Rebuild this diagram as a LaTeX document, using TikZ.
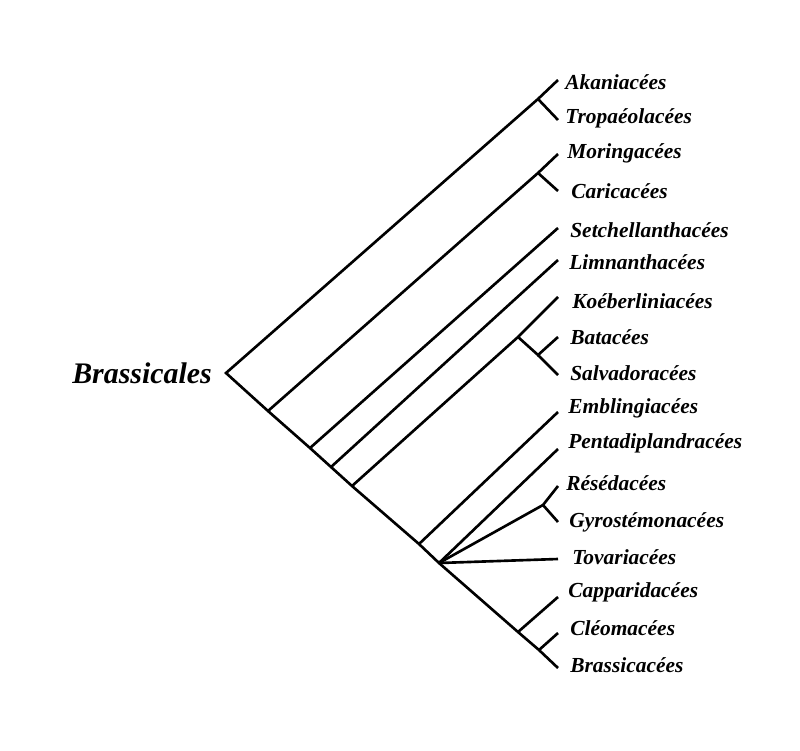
\documentclass[tikz,border=0pt]{standalone}
\usepackage{fontspec}
\setmainfont{Liberation Serif}
\usetikzlibrary{positioning}
\begin{document}
\begin{tikzpicture}[x=0.02cm, y=-0.02cm, line width=1.5pt,
		taxon/.style={inner sep=0pt, font=\fontsize{12.2}{14}\selectfont\bfseries\itshape},
		order/.style={inner sep=0pt, font=\fontsize{17}{20}\selectfont\bfseries\itshape}]
		\useasboundingbox (0,0) rectangle (800,750);

		% spine
		\coordinate (root) at (226,373);
		\coordinate (s1) at (268,411);
		\coordinate (s2) at (310,448);
		\coordinate (s3) at (331,467);
		\coordinate (s4) at (352,486);
		\coordinate (s5) at (419,544);
		\coordinate (s6) at (439,563);
		\coordinate (s7) at (518,632);
		\coordinate (s8) at (539,650);

		% inner forks
		\coordinate (akatro) at (538,99);
		\coordinate (morcar) at (538,173);
		\coordinate (koebs) at (518,337);
		\coordinate (batsal) at (538,355);
		\coordinate (resgyr) at (543,505);

		% tips
		\coordinate (t-aka) at (558,80);
		\coordinate (t-tro) at (558,120);
		\coordinate (t-mor) at (558,154);
		\coordinate (t-car) at (558,191);
		\coordinate (t-set) at (558,228);
		\coordinate (t-lim) at (558,260);
		\coordinate (t-koe) at (558,297);
		\coordinate (t-bat) at (558,337);
		\coordinate (t-sal) at (558,375);
		\coordinate (t-emb) at (558,412);
		\coordinate (t-pen) at (558,449);
		\coordinate (t-res) at (558,486);
		\coordinate (t-gyr) at (558,522);
		\coordinate (t-tov) at (558,559);
		\coordinate (t-cap) at (558,597);
		\coordinate (t-cle) at (558,633);
		\coordinate (t-bra) at (558,668);

		\node[order, left=2.6mm of root] (brassicales) {Brassicales};

		\node[taxon, right=1.2mm of t-aka, yshift=-0.4mm] (aka) {Akaniacées};
		\node[taxon, right=1.2mm of t-tro, yshift=0.4mm] (tro) {Tropaéolacées};
		\node[taxon, right=1.6mm of t-mor, yshift=0.2mm] (mor) {Moringacées};
		\node[taxon, right=2.4mm of t-car] (car) {Caricacées};
		\node[taxon, right=2.2mm of t-set, yshift=-0.4mm] (set) {Setchellanthacées};
		\node[taxon, right=2mm of t-lim, yshift=-0.4mm] (lim) {Limnanthacées};
		\node[taxon, right=2.6mm of t-koe, yshift=-0.8mm] (koe) {Koéberliniacées};
		\node[taxon, right=2.2mm of t-bat] (bat) {Batacées};
		\node[taxon, right=2.2mm of t-sal, yshift=0.4mm] (sal) {Salvadoracées};
		\node[taxon, right=1.8mm of t-emb, yshift=0.8mm] (emb) {Emblingiacées};
		\node[taxon, right=1.8mm of t-pen, yshift=1.2mm] (pen) {Pentadiplandracées};
		\node[taxon, right=1.4mm of t-res, yshift=0.6mm] (res) {Résédacées};
		\node[taxon, right=2mm of t-gyr] (gyr) {Gyrostémonacées};
		\node[taxon, right=2.6mm of t-tov, yshift=0.4mm] (tov) {Tovariacées};
		\node[taxon, right=1.8mm of t-cap, yshift=1mm] (cap) {Capparidacées};
		\node[taxon, right=2.2mm of t-cle, yshift=1mm] (cle) {Cléomacées};
		\node[taxon, right=2.2mm of t-bra, yshift=0.6mm] (bra) {Brassicacées};

		\draw (t-aka) -- (akatro) -- (root) -- (s1) -- (s2) -- (s3) -- (s4) -- (s5) -- (s6) -- (s7) -- (s8) -- (t-bra);
		\draw (akatro) -- (t-tro);

		\draw (s1) -- (morcar) -- (t-mor);
		\draw (morcar) -- (t-car);

		\draw (s2) -- (t-set);
		\draw (s3) -- (t-lim);

		\draw (s4) -- (koebs) -- (t-koe);
		\draw (koebs) -- (batsal) -- (t-bat);
		\draw (batsal) -- (t-sal);

		\draw (s5) -- (t-emb);
		\draw (s6) -- (t-pen);
		\draw (s6) -- (resgyr) -- (t-res);
		\draw (resgyr) -- (t-gyr);
		\draw (s6) -- (t-tov);

		\draw (s7) -- (t-cap);
		\draw (s8) -- (t-cle);
	\end{tikzpicture}
\end{document}
